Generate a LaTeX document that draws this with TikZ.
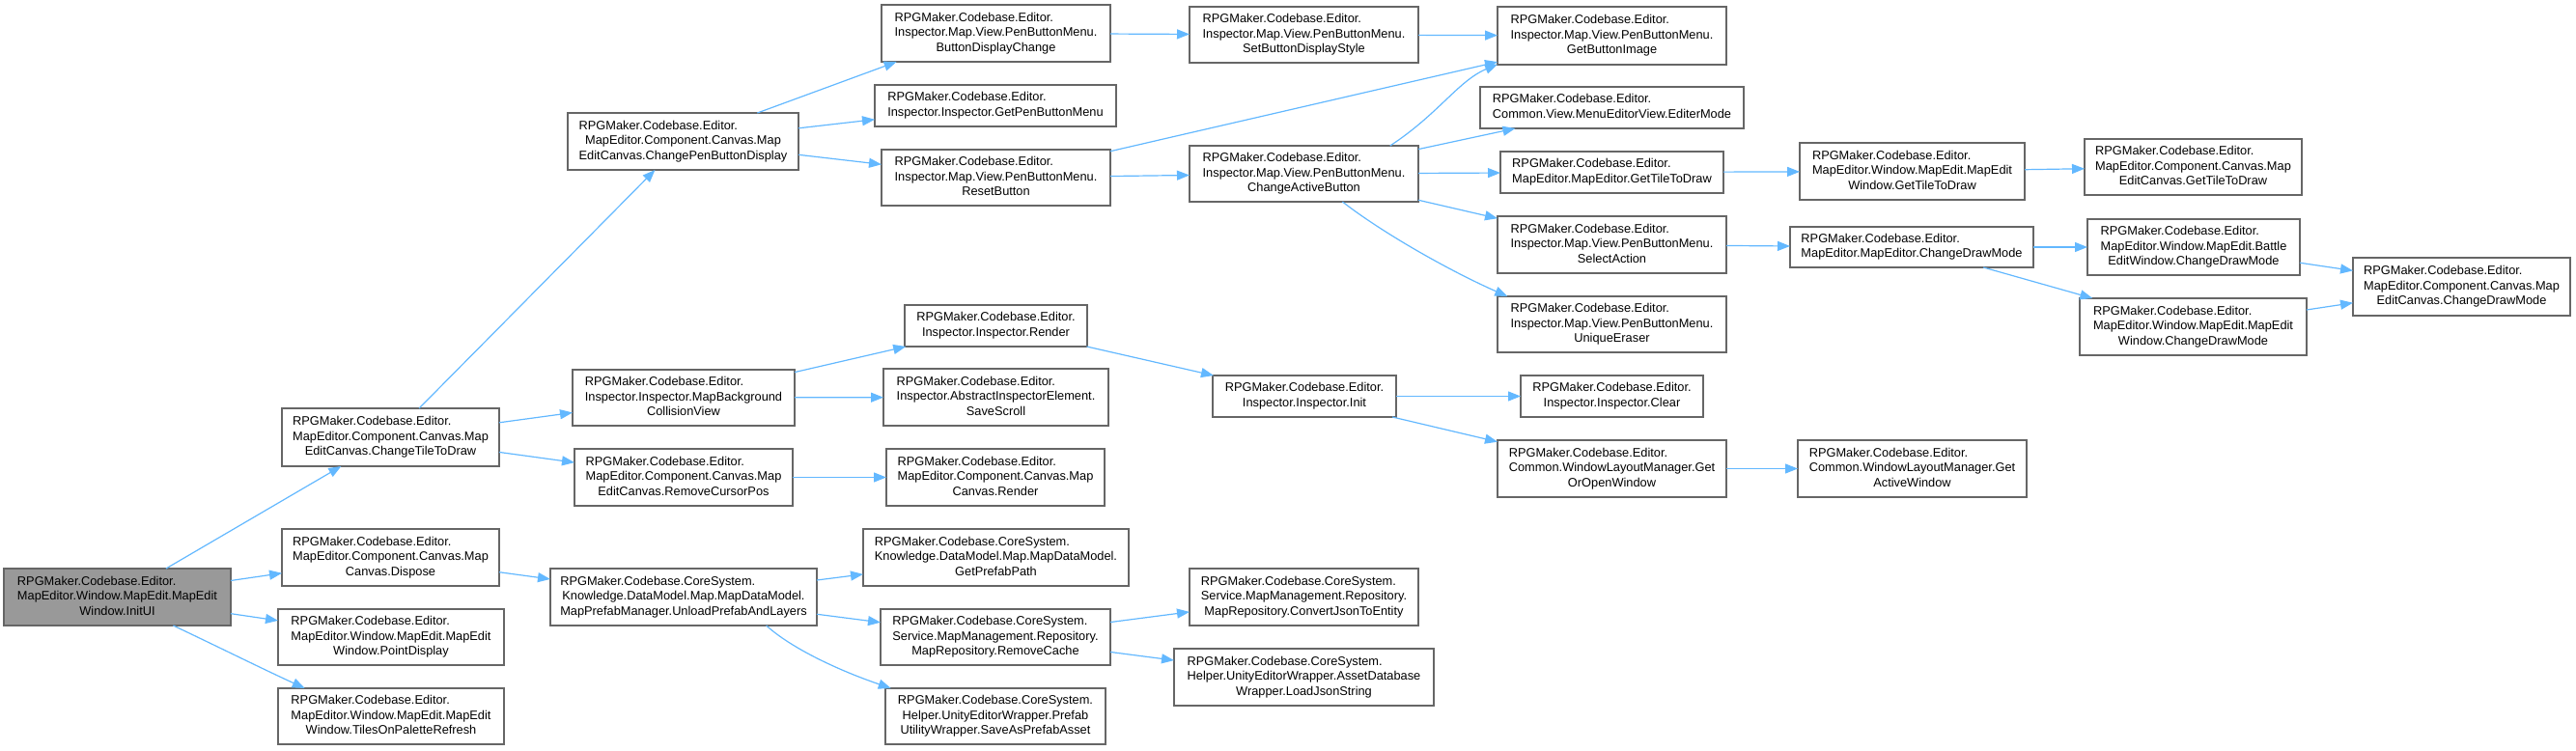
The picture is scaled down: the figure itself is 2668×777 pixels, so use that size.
\documentclass[tikz,border=0pt]{standalone}
\usepackage{fontspec}
\setmainfont{Liberation Sans}
\usetikzlibrary{arrows.meta}
\definecolor{edgec}{HTML}{63B8FF}
\definecolor{boxline}{HTML}{666666}
\definecolor{rootfill}{HTML}{999999}
\newcommand{\mylbl}[2]{\begin{tabular}{@{}c@{}}\multicolumn{1}{@{}l@{}}{#1}\\#2\end{tabular}}
\newcommand{\mynode}[8][]{%
  \node[box,#1,minimum width={(#4-#2)*1pt},minimum height={(#5-#3)*1pt}] (#6) at ({(#2+#4)/2},{(#3+#5)/2}) {\mylbl{#7}{#8}};}
\tikzset{
  box/.style={draw=boxline, line width=1.2pt, fill=white, inner sep=0pt, outer sep=0pt,
    font=\fontsize{12.8}{15.5}\selectfont, text=black},
  rootbox/.style={fill=rootfill},
  arr/.style={draw=edgec, line width=1.2pt, -{Triangle[length=13pt,width=10pt]}}
}
\begin{document}
\begin{tikzpicture}[x=1pt,y=-1pt]
\useasboundingbox (0,0) rectangle (2668,777);
\def\RE{RPGMaker.Codebase.Editor.}
\def\RC{RPGMaker.Codebase.CoreSystem.}
% column 0
\mynode[rootbox]{4}{589}{239}{648}{initui}{\RE}{MapEditor.Window.MapEdit.MapEdit\\Window.InitUI}
% column 1
\mynode{292}{423}{517}{483}{cttd}{\RE}{MapEditor.Component.Canvas.Map\\EditCanvas.ChangeTileToDraw}
\mynode{292}{548}{517}{607}{dispose}{\RE}{MapEditor.Component.Canvas.Map\\Canvas.Dispose}
\mynode{288}{631}{522}{689}{pointdisp}{\RE}{MapEditor.Window.MapEdit.MapEdit\\Window.PointDisplay}
\mynode{288}{713}{522}{771}{tpr}{\RE}{MapEditor.Window.MapEdit.MapEdit\\Window.TilesOnPaletteRefresh}
% column 2
\mynode{588}{117}{827}{176}{cpbd}{\RE}{MapEditor.Component.Canvas.Map\\EditCanvas.ChangePenButtonDisplay}
\mynode{593}{383}{823}{441}{mbcv}{\RE}{Inspector.Inspector.MapBackground\\CollisionView}
\mynode{595}{465}{821}{524}{rcp}{\RE}{MapEditor.Component.Canvas.Map\\EditCanvas.RemoveCursorPos}
\mynode{570}{589}{846}{648}{unload}{\RC}{Knowledge.DataModel.Map.MapDataModel.\\MapPrefabManager.UnloadPrefabAndLayers}
% column 3
\mynode{913}{5}{1150}{64}{bdc}{\RE}{Inspector.Map.View.PenButtonMenu.\\ButtonDisplayChange}
\mynode{906}{88}{1156}{131}{gpbm}{\RE}{Inspector.Inspector.GetPenButtonMenu}
\mynode{913}{155}{1150}{213}{reset}{\RE}{Inspector.Map.View.PenButtonMenu.\\ResetButton}
\mynode{937}{316}{1126}{359}{render}{\RE}{Inspector.Inspector.Render}
\mynode{915}{382}{1148}{441}{savescroll}{\RE}{Inspector.AbstractInspectorElement.\\SaveScroll}
\mynode{918}{465}{1144}{524}{mcrender}{\RE}{MapEditor.Component.Canvas.Map\\Canvas.Render}
\mynode{894}{548}{1169}{607}{gpp}{\RC}{Knowledge.DataModel.Map.MapDataModel.\\GetPrefabPath}
\mynode{912}{631}{1150}{689}{rmcache}{\RC}{Service.MapManagement.Repository.\\MapRepository.RemoveCache}
\mynode{917}{713}{1145}{771}{sapa}{\RC}{Helper.UnityEditorWrapper.Prefab\\UtilityWrapper.SaveAsPrefabAsset}
% column 4
\mynode{1232}{7}{1469}{65}{sbds}{\RE}{Inspector.Map.View.PenButtonMenu.\\SetButtonDisplayStyle}
\mynode{1232}{151}{1469}{209}{cab}{\RE}{Inspector.Map.View.PenButtonMenu.\\ChangeActiveButton}
\mynode{1256}{389}{1446}{432}{init}{\RE}{Inspector.Inspector.Init}
\mynode{1232}{589}{1469}{648}{cjte}{\RC}{Service.MapManagement.Repository.\\MapRepository.ConvertJsonToEntity}
\mynode{1216}{672}{1485}{731}{ljs}{\RC}{Helper.UnityEditorWrapper.AssetDatabase\\Wrapper.LoadJsonString}
% column 5
\mynode{1551}{7}{1788}{67}{gbi}{\RE}{Inspector.Map.View.PenButtonMenu.\\GetButtonImage}
\mynode{1533}{90}{1806}{133}{em}{\RE}{Common.View.MenuEditorView.EditerMode}
\mynode{1554}{157}{1785}{200}{megttd}{\RE}{MapEditor.MapEditor.GetTileToDraw}
\mynode{1551}{224}{1788}{283}{sa}{\RE}{Inspector.Map.View.PenButtonMenu.\\SelectAction}
\mynode{1551}{307}{1788}{365}{ue}{\RE}{Inspector.Map.View.PenButtonMenu.\\UniqueEraser}
\mynode{1575}{389}{1764}{432}{clear}{\RE}{Inspector.Inspector.Clear}
\mynode{1551}{456}{1788}{515}{goow}{\RE}{Common.WindowLayoutManager.Get\\OrOpenWindow}
% column 6
\mynode{1864}{148}{2097}{207}{mewgttd}{\RE}{MapEditor.Window.MapEdit.MapEdit\\Window.GetTileToDraw}
\mynode{1854}{235}{2106}{277}{mecdm}{\RE}{MapEditor.MapEditor.ChangeDrawMode}
\mynode{1862}{456}{2099}{515}{gaw}{\RE}{Common.WindowLayoutManager.Get\\ActiveWindow}
% column 7
\mynode{2159}{144}{2384}{202}{mecgttd}{\RE}{MapEditor.Component.Canvas.Map\\EditCanvas.GetTileToDraw}
\mynode{2162}{227}{2382}{285}{bewcdm}{\RE}{MapEditor.Window.MapEdit.Battle\\EditWindow.ChangeDrawMode}
\mynode{2154}{309}{2389}{368}{mewcdm}{\RE}{MapEditor.Window.MapEdit.MapEdit\\Window.ChangeDrawMode}
% column 8
\mynode{2437}{267}{2662}{327}{meccdm}{\RE}{MapEditor.Component.Canvas.Map\\EditCanvas.ChangeDrawMode}
% edges
\draw[arr] (initui) -- (cttd);
\draw[arr] (initui) -- (dispose);
\draw[arr] (initui) -- (pointdisp);
\draw[arr] (initui.-27) .. controls (230,672) and (270,692) .. (tpr.162);
\draw[arr] (cttd) -- (cpbd);
\draw[arr] (cttd) -- (mbcv);
\draw[arr] (cttd) -- (rcp);
\draw[arr] (dispose) -- (unload);
\draw[arr] (cpbd.21) -- (bdc.196);
\draw[arr] (cpbd) -- (gpbm);
\draw[arr] (cpbd) -- (reset);
\draw[arr] (bdc) -- (sbds);
\draw[arr] (sbds) -- (gbi);
\draw[arr] (reset) -- (gbi);
\draw[arr] (reset) -- (cab);
\draw[arr] (cab.18.6) .. controls (1490,118) and (1510,84) .. (gbi.194);
\draw[arr] (cab) -- (em);
\draw[arr] (cab) -- (megttd);
\draw[arr] (cab) -- (sa);
\draw[arr] (cab.-36) .. controls (1430,240) and (1500,280) .. (ue.165);
\draw[arr] (megttd) -- (mewgttd);
\draw[arr] (mewgttd) -- (mecgttd);
\draw[arr] (sa) -- (mecdm);
\draw[arr] (mecdm) -- (bewcdm);
\draw[arr] (mecdm) -- (mewcdm);
\draw[arr] (bewcdm) -- (meccdm);
\draw[arr] (mewcdm) -- (meccdm);
\draw[arr] (mbcv) -- (render);
\draw[arr] (mbcv) -- (savescroll);
\draw[arr] (rcp) -- (mcrender);
\draw[arr] (render) -- (init);
\draw[arr] (init) -- (clear);
\draw[arr] (init) -- (goow);
\draw[arr] (goow) -- (gaw);
\draw[arr] (unload) -- (gpp);
\draw[arr] (unload) -- (rmcache);
\draw[arr] (unload.-19) .. controls (820,672) and (870,695) .. (sapa.165);
\draw[arr] (rmcache) -- (cjte);
\draw[arr] (rmcache) -- (ljs);
\end{tikzpicture}
\end{document}
